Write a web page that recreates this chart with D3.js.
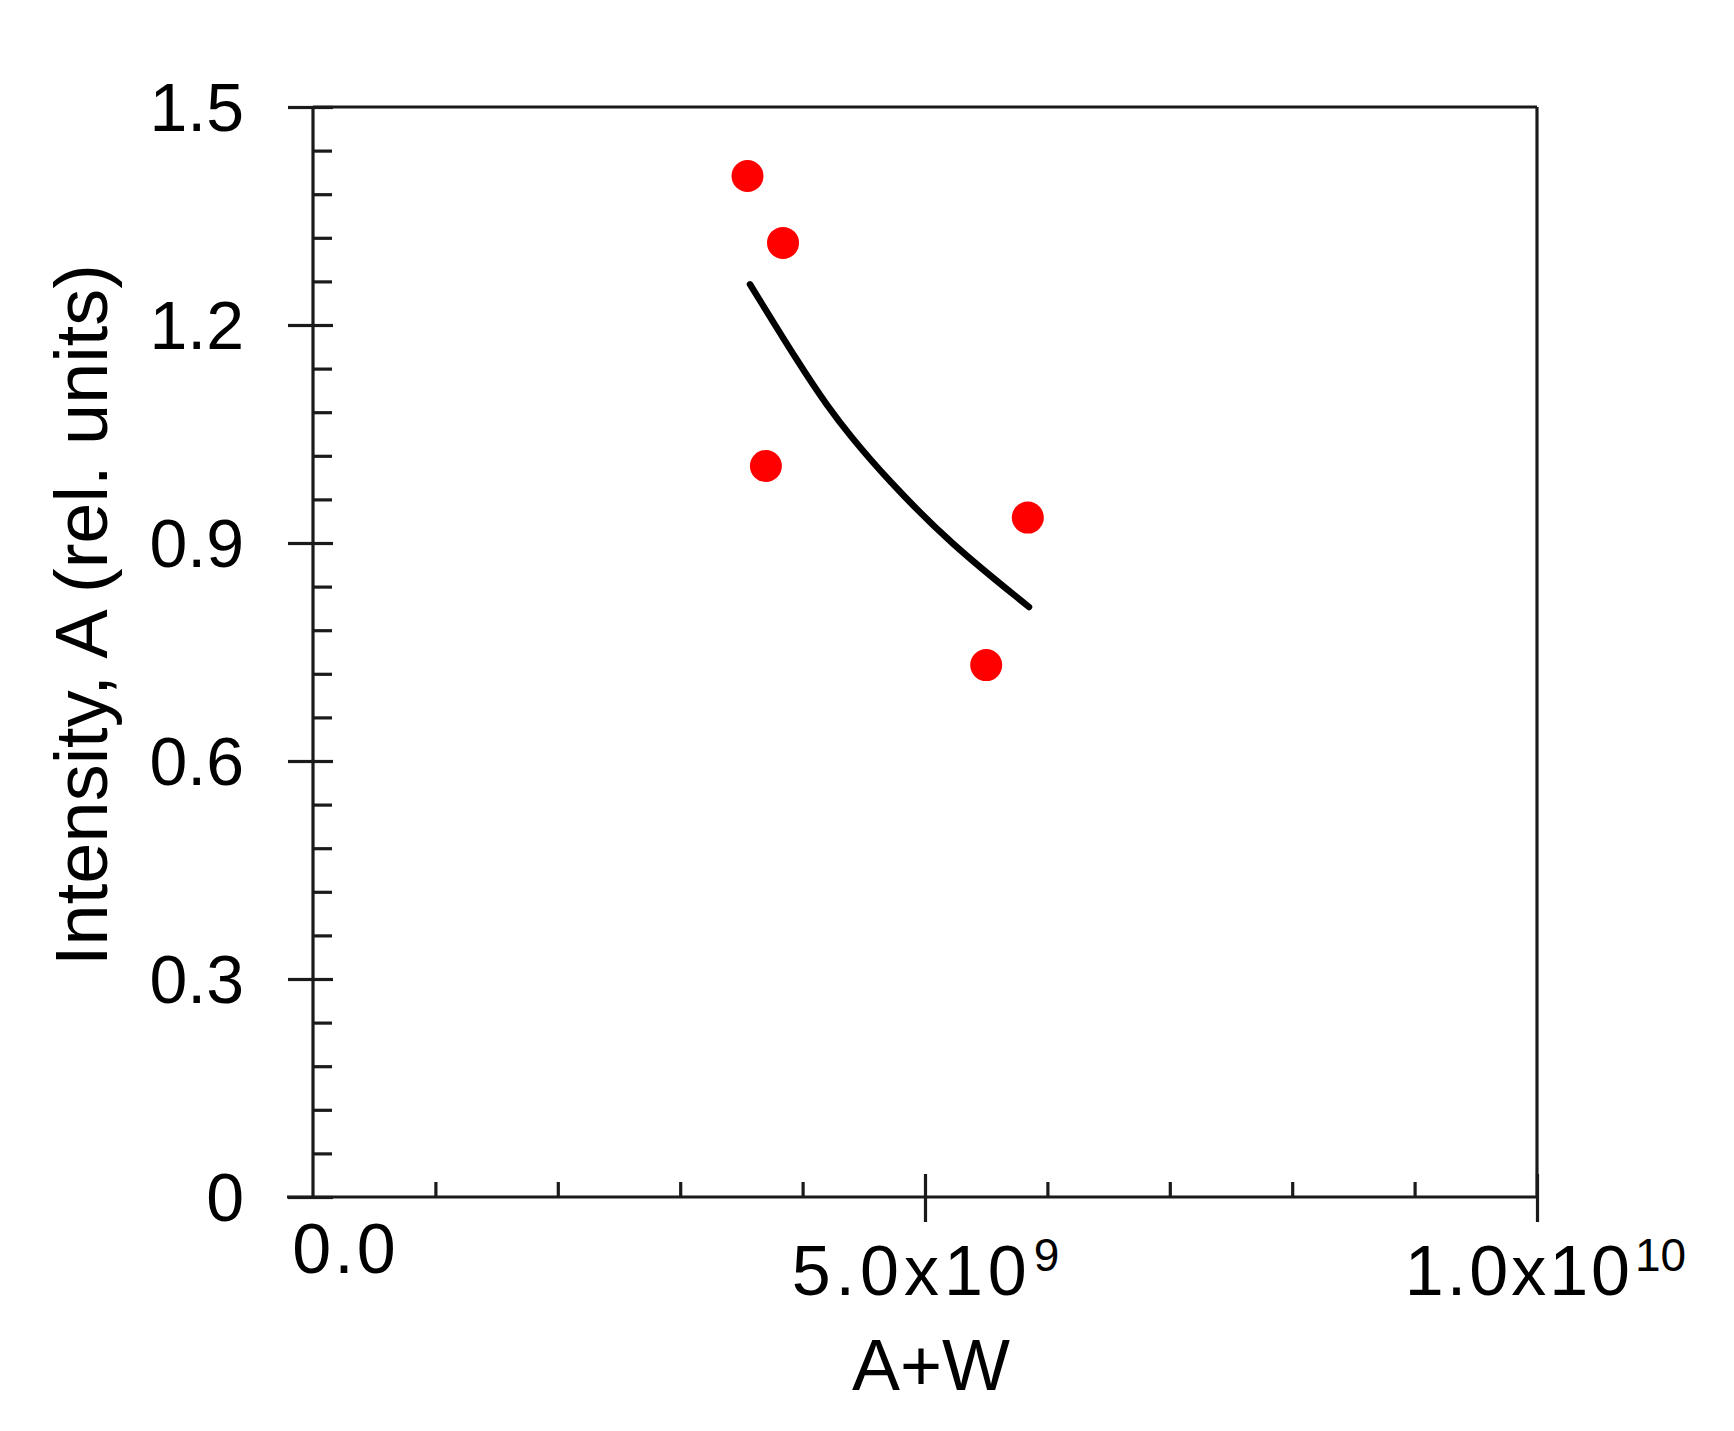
<!DOCTYPE html>
<html>
<head>
<meta charset="utf-8">
<script src="https://cdn.jsdelivr.net/npm/d3@7"></script>
<style>
  body { margin: 0; background: #fff; }
  text { font-family: "Liberation Sans", Arial, sans-serif; fill: #000; }
</style>
</head>
<body>
<div id="chart"></div>
<script>
// measured points (A+W vs intensity)
const pointX = [3.55e9, 3.84e9, 3.70e9, 5.84e9, 5.50e9];
const pointY = [1.405, 1.313, 1.006, 0.935, 0.732];

// fitted curve
const fitX = [3.57e9, 3.98e9, 4.20e9, 4.39e9, 4.69e9, 5.20e9, 5.85e9];
const fitY = [1.256, 1.144, 1.089, 1.047, 0.988, 0.900, 0.812];

// ticks
const xMajor = [0, 5e9, 1e10];
const xLabelBase = ["0.0", "5.0x10", "1.0x10"];
const xLabelExp = ["", "9", "10"];
const yMajor = [0, 0.3, 0.6, 0.9, 1.2, 1.5];
const yLabels = ["0", "0.3", "0.6", "0.9", "1.2", "1.5"];
const xMinor = [1e9, 2e9, 3e9, 4e9, 6e9, 7e9, 8e9, 9e9];
const yMinor = [0.06, 0.12, 0.18, 0.24, 0.36, 0.42, 0.48, 0.54, 0.66, 0.72, 0.78, 0.84,
                0.96, 1.02, 1.08, 1.14, 1.26, 1.32, 1.38, 1.44];

const margin = { top: 107, right: 197, bottom: 234, left: 313 };
const width = 1734 - margin.left - margin.right,
  height = 1431 - margin.top - margin.bottom;

const axisColor = "#1a1a1a";
const axisWidth = 3.2;

const svg = d3
  .select("#chart")
  .append("svg")
  .attr("width", width + margin.left + margin.right)
  .attr("height", height + margin.top + margin.bottom)
  .append("g")
  .attr("transform", "translate(" + margin.left + "," + margin.top + ")");

const x = d3.scaleLinear().domain([0, 1e10]).range([0, width]);
const y = d3.scaleLinear().domain([0, 1.5]).range([height, 0]);

function styleAxis(g) {
  g.select(".domain").remove();
  g.selectAll(".tick line").attr("stroke", axisColor).attr("stroke-width", axisWidth);
}

// frame
svg.append("line")
  .attr("x1", 0).attr("x2", width).attr("y1", 0).attr("y2", 0)
  .attr("stroke", axisColor).attr("stroke-width", axisWidth);
svg.append("line")
  .attr("x1", width).attr("x2", width).attr("y1", 0).attr("y2", height)
  .attr("stroke", axisColor).attr("stroke-width", axisWidth);
svg.append("line")
  .attr("x1", 0).attr("x2", 0).attr("y1", 0).attr("y2", height)
  .attr("stroke", axisColor).attr("stroke-width", axisWidth);
svg.append("line")
  .attr("x1", -26).attr("x2", width).attr("y1", height).attr("y2", height)
  .attr("stroke", axisColor).attr("stroke-width", axisWidth);

// y axis minor + major ticks
svg.append("g")
  .call(d3.axisLeft(y).tickValues(yMinor).tickSize(-19).tickFormat(""))
  .call(styleAxis);
svg.append("g")
  .call(d3.axisLeft(y).tickValues(yMajor).tickSize(-20).tickFormat(""))
  .call(styleAxis);
svg.append("g")
  .call(d3.axisLeft(y).tickValues(yMajor).tickSize(25).tickPadding(44)
    .tickFormat((d, i) => yLabels[i]))
  .call(styleAxis)
  .call(g => g.selectAll("text")
    .attr("font-size", 68)
    .attr("dy", "0.35em")
    .style("font-family", "'Liberation Sans', Arial, sans-serif"));

// x axis minor + major ticks
svg.append("g")
  .attr("transform", "translate(0," + height + ")")
  .call(d3.axisBottom(x).tickValues(xMinor).tickSize(-15).tickFormat(""))
  .call(styleAxis);
svg.append("g")
  .attr("transform", "translate(0," + height + ")")
  .call(d3.axisBottom(x).tickValues(xMajor.slice(1)).tickSize(-23).tickFormat(""))
  .call(styleAxis);
const xAxis = svg.append("g")
  .attr("transform", "translate(0," + height + ")")
  .call(d3.axisBottom(x).tickValues(xMajor).tickSize(25).tickFormat(""))
  .call(styleAxis);
xAxis.selectAll(".tick line").attr("y2", (d) => (d === 0 ? 0 : 25));

xAxis.selectAll(".tick").append("text")
  .attr("text-anchor", "middle")
  .attr("font-size", 70)
  .attr("letter-spacing", (d, i) => (i === 1 ? 5 : 3))
  .attr("x", (d, i) => (i === 0 ? 32 : i === 1 ? 0 : 8))
  .attr("y", (d, i) => (i === 0 ? 76 : 98))
  .each(function (d, i) {
    const t = d3.select(this);
    t.append("tspan").text(xLabelBase[i]);
    if (xLabelExp[i]) {
      t.append("tspan")
        .attr("font-size", 46)
        .attr("letter-spacing", 0)
        .attr("dx", 2)
        .attr("dy", -24)
        .text(xLabelExp[i]);
    }
  });

// axis titles
svg.append("text")
  .text("A+W")
  .attr("x", 931 - margin.left)
  .attr("y", 1390 - margin.top)
  .attr("text-anchor", "middle")
  .attr("font-size", 72);

svg.append("text")
  .text("Intensity, A (rel. units)")
  .attr("transform", "translate(" + (107 - margin.left) + "," + (615 - margin.top) + ") rotate(-90)")
  .attr("text-anchor", "middle")
  .attr("font-size", 74);

// fit curve
const line = d3.line()
  .x((d) => x(d[0]))
  .y((d) => y(d[1]))
  .curve(d3.curveBasis);

svg.append("path")
  .datum(fitX.map((v, i) => [v, fitY[i]]))
  .attr("d", line)
  .attr("fill", "none")
  .attr("stroke", "#000")
  .attr("stroke-width", 6.5)
  .attr("stroke-linecap", "round");

// data points
svg.selectAll(".pt")
  .data(pointX.map((v, i) => [v, pointY[i]]))
  .join("circle")
  .attr("class", "pt")
  .attr("cx", (d) => x(d[0]))
  .attr("cy", (d) => y(d[1]))
  .attr("r", 16)
  .attr("fill", "#ff0000");
</script>
</body>
</html>
